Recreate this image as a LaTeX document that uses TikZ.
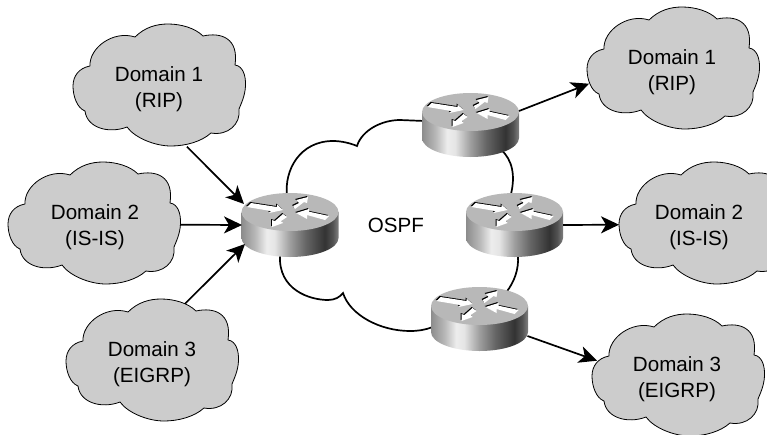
\documentclass[tikz,border=0pt]{standalone}
\usepackage{fontspec}
\setmainfont{Liberation Sans}
\usetikzlibrary{arrows.meta,calc}
\definecolor{cloudgray}{gray}{0.8}
\definecolor{routertop}{gray}{0.72}
\pgfdeclarehorizontalshading{routerside}{100bp}{
  rgb(0bp)=(0.55,0.55,0.55);
  rgb(25bp)=(0.55,0.55,0.55);
  rgb(32bp)=(0.72,0.72,0.72);
  rgb(38bp)=(0.93,0.93,0.93);
  rgb(42bp)=(0.9,0.9,0.9);
  rgb(50bp)=(0.62,0.62,0.62);
  rgb(58bp)=(0.4,0.4,0.4);
  rgb(68bp)=(0.2,0.2,0.2);
  rgb(72bp)=(0.32,0.32,0.32);
  rgb(75bp)=(0.5,0.5,0.5);
  rgb(100bp)=(0.5,0.5,0.5)}
\tikzset{
  domaintext/.style={inner sep=0pt,align=center,
    font=\fontsize{20.6}{26}\selectfont},
  cloudfill/.style={fill=cloudgray,draw=black,line width=0.8pt,line join=round},
  ospfline/.style={draw=black,line width=1.7pt},
  routerbox/.style={inner sep=0pt,minimum width=97pt,minimum height=64pt},
  link/.style={draw=black,line width=1.7pt,-{Stealth[length=18pt,width=17pt,inset=5pt]}},
  ospflabel/.style={font=\fontsize{20.6}{25}\selectfont,inner sep=0pt}
}
% #1 name, #2 #3 cloud centre, #4 text x offset, #5 text
\newcommand{\domaincloud}[5]{%
  \begin{scope}[shift={(#2,#3)}]
    \path[cloudfill] (-24,-49) .. controls (-14,-59) and (-2,-62) .. (9,-62)
      .. controls (22,-62) and (36,-58) .. (44,-50)
      .. controls (62,-54) and (80,-48) .. (76,-21)
      .. controls (84,-20) and (87,-10) .. (86.5,0)
      .. controls (86,10) and (82,18) .. (80,23)
      .. controls (82,38) and (69,50) .. (52,47)
      .. controls (42,56) and (26,60) .. (12,60)
      .. controls (-4,60) and (-24,52) .. (-32,41)
      .. controls (-50,48) and (-72,42) .. (-74,25)
      .. controls (-82,22) and (-86,10) .. (-86,0)
      .. controls (-86,-10) and (-80,-18) .. (-69,-20)
      .. controls (-70,-38) and (-46,-56) .. (-24,-49) -- cycle;
    \node[domaintext] (#1) at (#4,2.7) {#5};
  \end{scope}}
\newcommand{\arrowset}{%
  (-39,-9) -- (-13,-5) -- (-13,-7.5) -- (-7,-2) -- (-21,1) -- (-19,-1) -- (-43,-5) -- cycle
  (3,-6) -- (9,-9) -- (6,-12) -- (18,-15) -- (17,-9) -- (14,-10) -- (5,-3) -- cycle
  (6,1) -- (19,-3) -- (19,-0.3) -- (39,4) -- (35,8) -- (17,3) -- (17,7) -- cycle
  (-3,5) -- (-9,9) -- (-7,11) -- (-18,15) -- (-18,8) -- (-15,9) -- (-7,2) -- cycle}
\newcommand{\routerart}[1]{%
  \begin{scope}[shift={(#1.center)}]
    \path[shading=routerside] (-48.5,-13) -- (-48.5,13)
      arc[start angle=180,end angle=0,x radius=48.5,y radius=19]
      -- (48.5,-13) -- cycle;
    \fill[routertop] (0,-13) ellipse[x radius=48.5,y radius=19];
    \begin{scope}[shift={(0,-13)}]
      \begin{scope}[shift={(-0.8,-1)}]
        \fill[black] \arrowset;
      \end{scope}
      \fill[white] \arrowset;
    \end{scope}
  \end{scope}}
\begin{document}
\begin{tikzpicture}[x=1pt,y=-1pt]
\useasboundingbox (0,0) rectangle (767,434);
\clip (0,0) rectangle (767,434);
% OSPF ring
\node[routerbox] (r1) at (290,225) {};
\node[routerbox] (r2) at (470.5,125) {};
\node[routerbox] (r3) at (514.5,225) {};
\node[routerbox] (r4) at (479.5,319) {};
\coordinate (ringa) at ($(r1.center)+(-3,-29)$);
\coordinate (ringb) at ($(r2.center)+(-46,-4)$);
\coordinate (ringc) at ($(r2.center)+(31,25)$);
\coordinate (ringd) at ($(r3.center)+(-4,-29)$);
\coordinate (ringe) at ($(r3.center)+(3.5,30)$);
\coordinate (ringf) at ($(r4.center)+(27,-27)$);
\coordinate (ringg) at ($(r4.center)+(-47,8)$);
\coordinate (ringh) at ($(r1.center)+(-10,30)$);
\path[ospfline] (ringa) .. controls (284,170) and (300,141) .. (333,141)
  .. controls (341,141) and (350,143) .. (357,146)
  .. controls (362,130) and (382,120) .. (400,120) -- (ringb);
\path[ospfline] (ringc) .. controls (512,160) and (516,175) .. (ringd);
\path[ospfline] (ringe) .. controls (519,270) and (514,282) .. (ringf);
\path[ospfline] (ringg) .. controls (425,330) and (418,331) .. (410,331)
  .. controls (380,331) and (350,315) .. (343,293)
  .. controls (340,297) and (335,300) .. (328,300)
  .. controls (310,300) and (278,290) .. (ringh);
\node[ospflabel] (ospf) at (396,225) {OSPF};
% routers
\routerart{r1}
\routerart{r2}
\routerart{r3}
\routerart{r4}
% domains
\domaincloud{la}{159}{86}{0}{Domain 1\\(RIP)}
\domaincloud{lb}{94}{224}{1}{Domain 2\\(IS-IS)}
\domaincloud{lc}{152}{361}{0}{Domain 3\\(EIGRP)}
\domaincloud{ra}{673}{69}{-1}{Domain 1\\(RIP)}
\domaincloud{rb}{705}{224}{-6}{Domain 2\\(IS-IS)}
\domaincloud{rc}{678}{376}{-1}{Domain 3\\(EIGRP)}
% connectors
\coordinate (laout) at ($(la.center)+(28,58)$);
\coordinate (lbout) at ($(lb.center)+(85,-2)$);
\coordinate (lcout) at ($(lc.center)+(33,-60)$);
\coordinate (r1a) at ($(r1.center)+(-46,-21)$);
\coordinate (r1b) at ($(r1.center)+(-48,0)$);
\coordinate (r1c) at ($(r1.center)+(-45,19)$);
\coordinate (r2out) at ($(r2.center)+(48.5,-14)$);
\coordinate (raIn) at ($(ra.center)+(-83,12)$);
\coordinate (r3out) at ($(r3.center)+(48.5,0)$);
\coordinate (rbIn) at ($(rb.center)+(-80,-2)$);
\coordinate (r4out) at ($(r4.center)+(48,17)$);
\coordinate (rcIn) at ($(rc.center)+(-80,-18)$);
\draw[link] (laout) -- (r1a);
\draw[link] (lbout) -- (r1b);
\draw[link] (lcout) -- (r1c);
\draw[link] (r2out) -- (raIn);
\draw[link] (r3out) -- (rbIn);
\draw[link] (r4out) -- (rcIn);
\end{tikzpicture}
\end{document}
